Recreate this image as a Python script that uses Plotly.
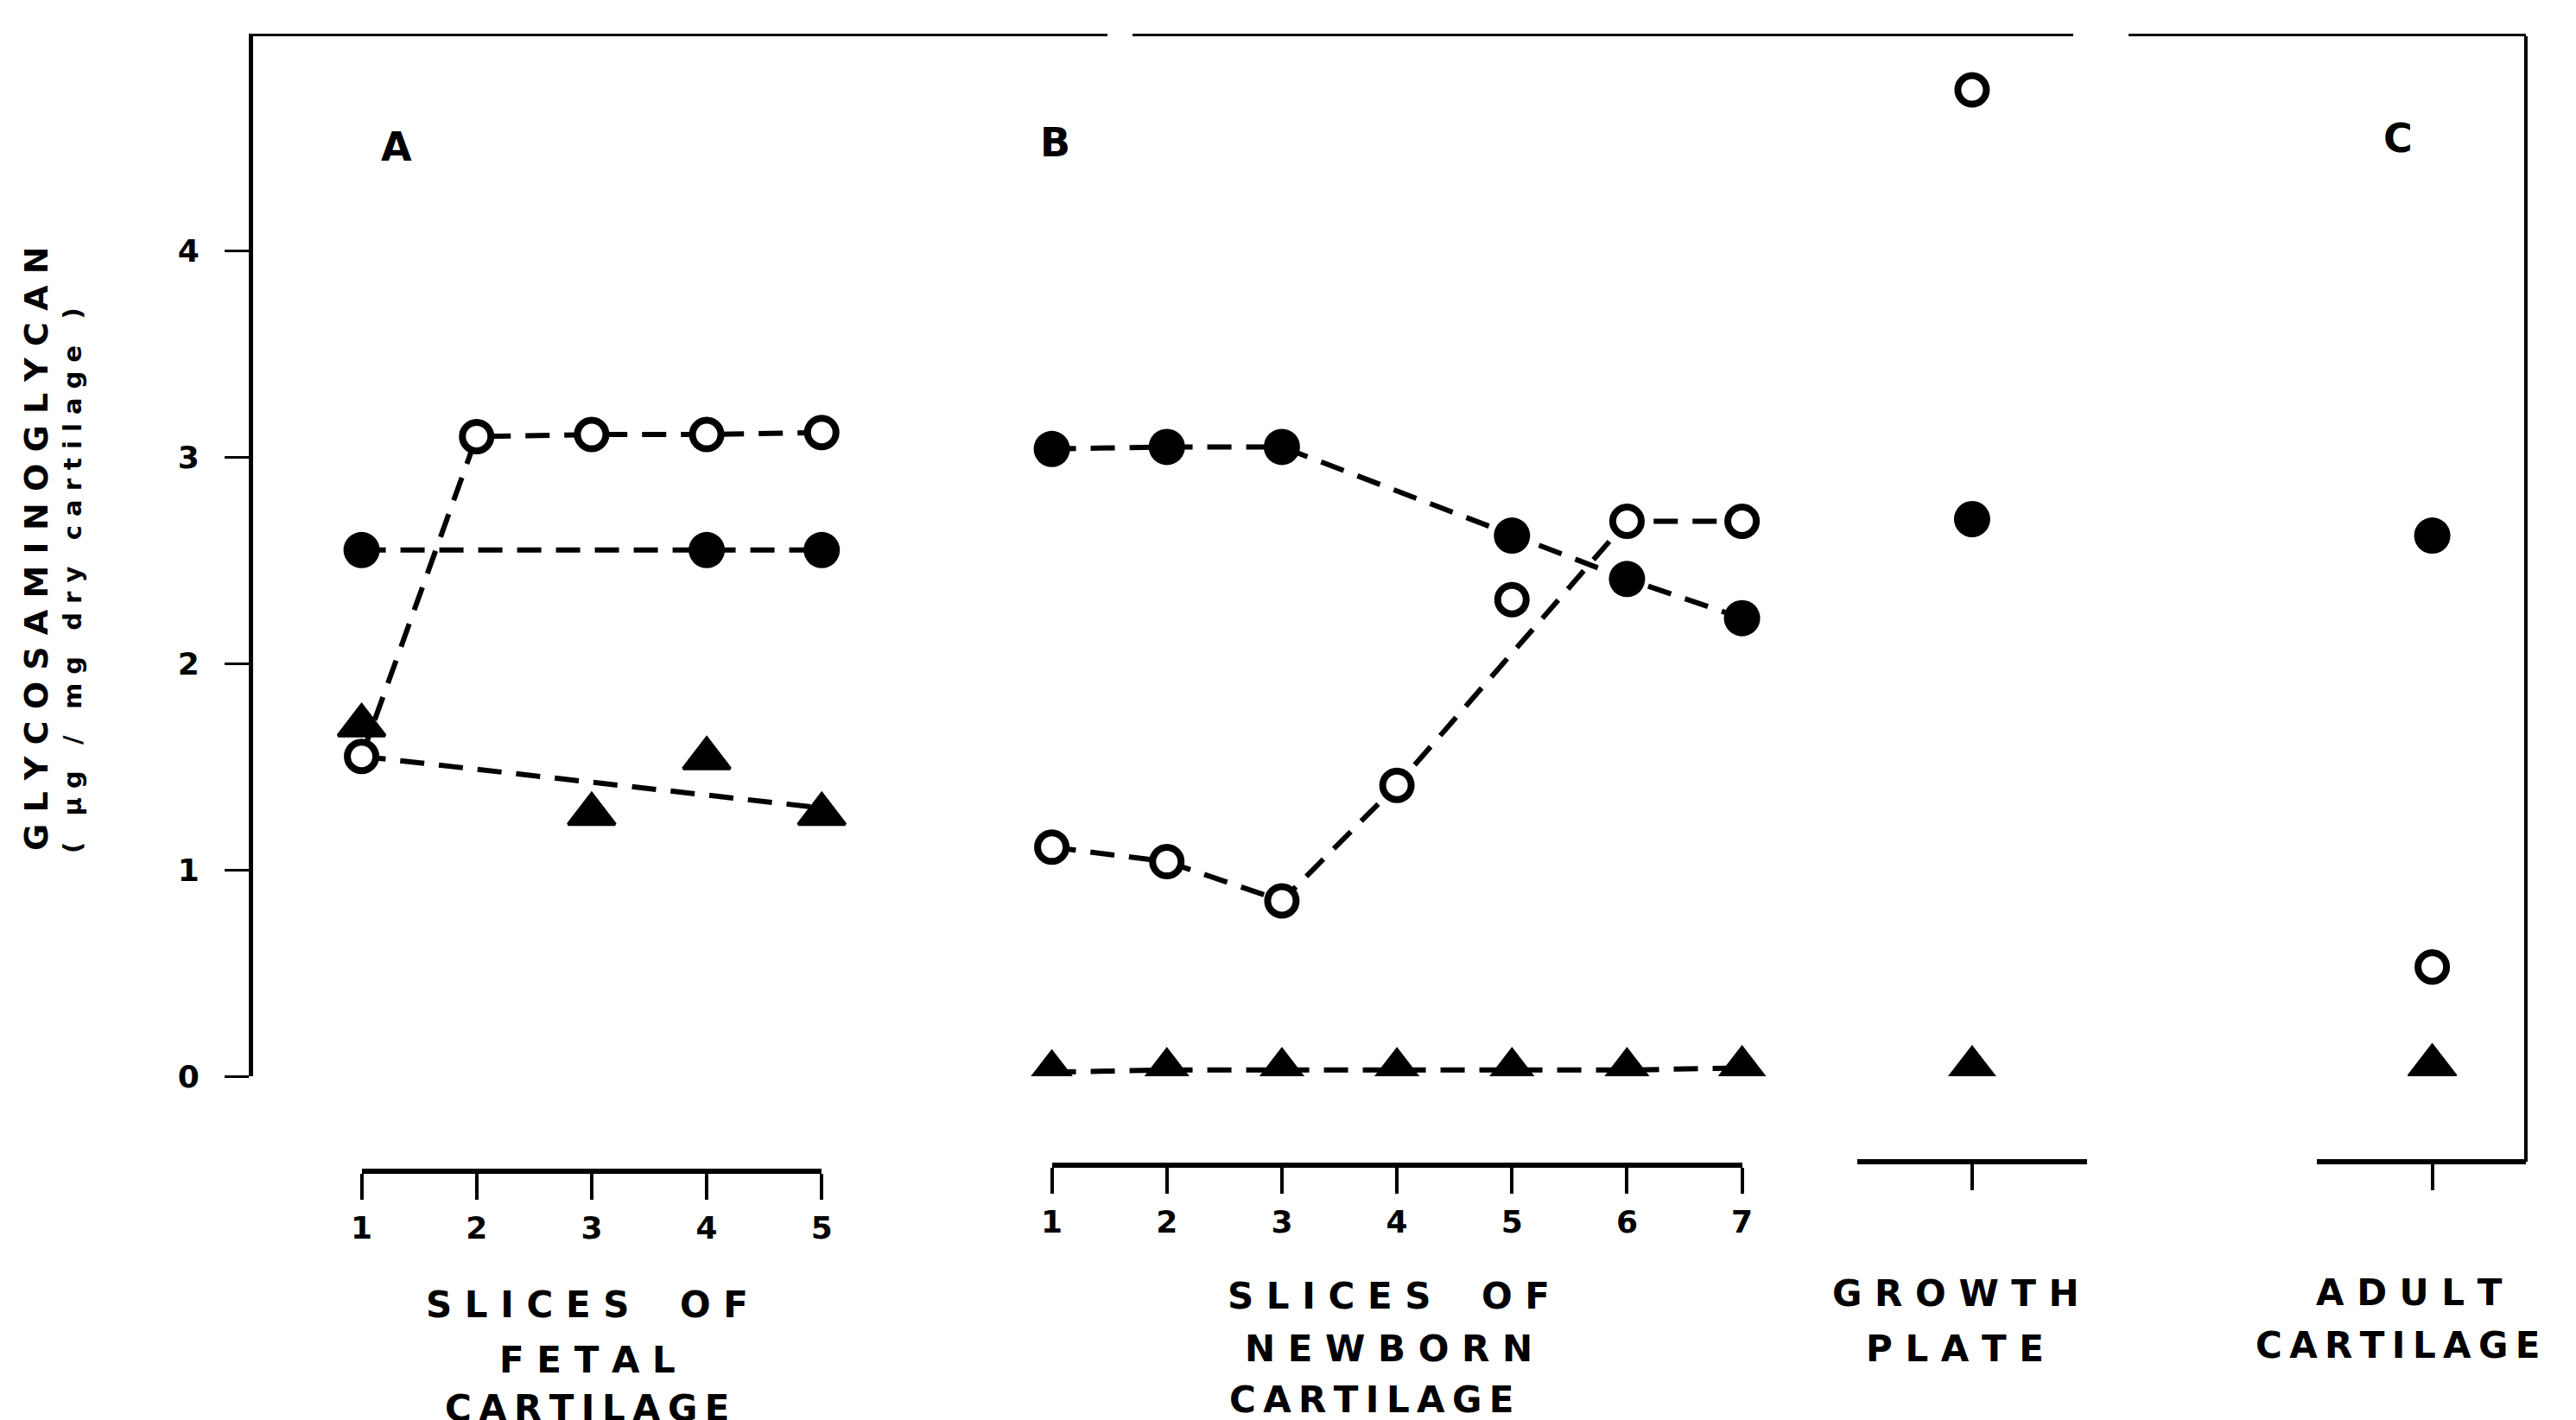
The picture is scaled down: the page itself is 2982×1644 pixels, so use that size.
import plotly.graph_objects as go

# ---------------- data ----------------
a_slices = [1, 2, 3, 4, 5]
a_open = [1.55, 3.10, 3.11, 3.11, 3.12]
a_filled_slices = [1, 4, 5]
a_filled = [2.55, 2.55, 2.55]
a_tri_slices = [1, 3, 4, 5]
a_tri = [1.70, 1.27, 1.54, 1.27]
a_trend_slices = [1, 5]
a_trend = [1.55, 1.30]

b_slices = [1, 2, 3, 4, 5, 6, 7]
b_open = [1.11, 1.04, 0.85, 1.41, 2.31, 2.69, 2.69]
b_open_line_slices = [1, 2, 3, 4, 6, 7]
b_filled_slices = [1, 2, 3, 5, 6, 7]
b_filled = [3.04, 3.05, 3.05, 2.62, 2.41, 2.22]
b_tri = [0.02, 0.03, 0.03, 0.03, 0.03, 0.03, 0.04]

growth_open, growth_filled, growth_tri = 4.78, 2.70, 0.04
adult_open, adult_filled, adult_tri = 0.53, 2.62, 0.05

y_ticks = [0, 1, 2, 3, 4]
a_tick_labels = ["1", "2", "3", "4", "5"]
b_tick_labels = ["1", "2", "3", "4", "5", "6", "7"]

# ---------------- layout helpers ----------------
A_OFF, B_OFF, GROWTH_X, ADULT_X = 0, 6, 15, 19
X_RANGE = [0.057, 19.814]
Y_RANGE = [0, 5.04]
W, H = 2982, 1644
L, R, T, B = 285, 2916, 34, 1354


def py(ypx):
    return (B - ypx) / (B - T)


def pxx(xpx):
    return (xpx - L) / (R - L)


def fx(v):
    return (v - X_RANGE[0]) / (X_RANGE[1] - X_RANGE[0])


FONT = "DejaVu Sans, Liberation Sans, Arial"
DASH = "28px,17px"
LW = 6
BLACK = "black"
NB = "\u00a0"
TH = "\u2009"

open_marker = dict(symbol="circle", size=33, color="white", line=dict(color=BLACK, width=8))
filled_marker = dict(symbol="circle", size=42, color=BLACK, line=dict(color=BLACK, width=0))
tri_marker = dict(symbol="triangle-up", size=47, color=BLACK, line=dict(color=BLACK, width=4))

fig = go.Figure()


def line(xs, ys):
    fig.add_trace(go.Scatter(x=xs, y=ys, mode="lines", showlegend=False, hoverinfo="skip",
                             line=dict(color=BLACK, width=LW, dash=DASH)))


def pts(xs, ys, marker):
    fig.add_trace(go.Scatter(x=xs, y=ys, mode="markers", showlegend=False, marker=marker))


# dummy traces so the free axes are drawn
for xa in ["x2", "x3", "x4", "x5"]:
    fig.add_trace(go.Scatter(x=[], y=[], xaxis=xa, yaxis="y", showlegend=False))
fig.add_trace(go.Scatter(x=[], y=[], xaxis="x", yaxis="y2", showlegend=False))

# panel A
line([s + A_OFF for s in a_slices], a_open)
line([s + A_OFF for s in a_filled_slices], a_filled)
line([s + A_OFF for s in a_trend_slices], a_trend)
# panel B
b_open_line = [v for s, v in zip(b_slices, b_open) if s in b_open_line_slices]
line([s + B_OFF for s in b_open_line_slices], b_open_line)
line([s + B_OFF for s in b_filled_slices], b_filled)
line([s + B_OFF for s in b_slices], b_tri)

pts([s + A_OFF for s in a_slices], a_open, open_marker)
pts([s + A_OFF for s in a_filled_slices], a_filled, filled_marker)
pts([s + A_OFF for s in a_tri_slices], a_tri, tri_marker)
pts([s + B_OFF for s in b_slices], b_open, open_marker)
pts([s + B_OFF for s in b_filled_slices], b_filled, filled_marker)
pts([s + B_OFF for s in b_slices], b_tri, tri_marker)
pts([GROWTH_X, ADULT_X], [growth_open, adult_open], open_marker)
pts([GROWTH_X, ADULT_X], [growth_filled, adult_filled], filled_marker)
pts([GROWTH_X, ADULT_X], [growth_tri, adult_tri], tri_marker)

tickfont = dict(family=FONT, size=36, color=BLACK, weight="bold")


def bottom_axis(rng, pos, tickvals, ticktext):
    return dict(anchor="free", position=pos, domain=[fx(rng[0]), fx(rng[1])], range=rng,
                showline=True, linecolor=BLACK, linewidth=6, showgrid=False, zeroline=False,
                ticks="outside", ticklen=30, tickwidth=4, tickcolor=BLACK,
                tickvals=tickvals, ticktext=ticktext, showticklabels=True,
                tickfont=tickfont, ticklabelstandoff=2)


fig.update_layout(
    width=W, height=H,
    margin=dict(l=L, r=W - R, t=T, b=H - B),
    plot_bgcolor="rgba(0,0,0,0)", paper_bgcolor="white",
    xaxis=dict(range=X_RANGE, domain=[0, 1], side="top", showline=True, linecolor=BLACK,
               linewidth=3, showgrid=False, zeroline=False, ticks="", showticklabels=False),
    yaxis=dict(range=Y_RANGE, domain=[py(1238), 1], showline=True, linecolor=BLACK,
               linewidth=5, showgrid=False, zeroline=False, ticks="outside", ticklen=28,
               tickwidth=3, tickcolor=BLACK, tickvals=y_ticks,
               ticktext=[str(v) for v in y_ticks], tickfont=tickfont, ticklabelstandoff=22),
    yaxis2=dict(anchor="free", position=1, side="right", domain=[py(1337), 1], range=[0, 1],
                showline=True, linecolor=BLACK, linewidth=4, showgrid=False, zeroline=False,
                ticks="", showticklabels=False),
    xaxis2=bottom_axis([1 + A_OFF, 5 + A_OFF], py(1348), [s + A_OFF for s in a_slices], a_tick_labels),
    xaxis3=bottom_axis([1 + B_OFF, 7 + B_OFF], py(1341), [s + B_OFF for s in b_slices], b_tick_labels),
    xaxis4=bottom_axis([GROWTH_X - 1, GROWTH_X + 1], py(1337), [GROWTH_X], [""]),
    xaxis5=bottom_axis([ADULT_X - 1, X_RANGE[1]], py(1337), [ADULT_X], [""]),
)

# small breaks in the top frame line, as in the scanned original
fig.update_layout(shapes=[
    dict(type="rect", xref="paper", yref="paper", x0=pxx(1274), x1=pxx(1303), y0=py(42), y1=py(26),
         fillcolor="white", line=dict(width=0), layer="above"),
    dict(type="rect", xref="paper", yref="paper", x0=pxx(2392), x1=pxx(2456), y0=py(42), y1=py(26),
         fillcolor="white", line=dict(width=0), layer="above"),
])


def spaced(s, gap=NB, wordgap=NB * 4):
    return wordgap.join(gap.join(list(w)) for w in s.split(" "))


ann = []
lab_font = dict(family=FONT, size=42, color=BLACK, weight="bold")


def lab(text, xv, ypx, gap=NB):
    ann.append(dict(text=spaced(text, gap, NB * 4), x=xv, xref="x", y=py(ypx), yref="paper",
                    showarrow=False, xanchor="center", yanchor="middle", font=lab_font))


lab("SLICES OF", 2.96, 1502)
lab("FETAL", 2.96, 1566)
lab("CARTILAGE", 2.96, 1622, TH)
lab("SLICES OF", 9.93, 1492)
lab("NEWBORN", 9.93, 1553)
lab("CARTILAGE", 9.78, 1612, TH)
lab("GROWTH", 14.86, 1489)
lab("PLATE", 14.85, 1553)
lab("ADULT", 18.8, 1488)
lab("CARTILAGE", 18.7, 1549, TH)

panel_font = dict(family=FONT, size=46, color=BLACK, weight="bold")
for t, xv, ypx in [("A", 1 + (237 - 216) / 70, 162), ("B", 1 + (638 - 216) / 70, 157),
                   ("C", 1 + (1455 - 216) / 70, 152)]:
    ann.append(dict(text=t, x=xv, xref="x", y=py(ypx), yref="paper", showarrow=False,
                    xanchor="center", yanchor="middle", font=panel_font))

ann.append(dict(text=spaced("GLYCOSAMINOGLYCAN", NB), x=pxx(34), xref="paper", y=py(627), yref="paper",
                textangle=-90, showarrow=False, xanchor="center", yanchor="middle",
                font=dict(family=FONT, size=38, color=BLACK, weight="bold")))
ann.append(dict(text=spaced("( µg / mg dry cartilage )", NB, NB * 3),
                x=pxx(76), xref="paper", y=py(664), yref="paper",
                textangle=-90, showarrow=False, xanchor="center", yanchor="middle",
                font=dict(family=FONT, size=29, color=BLACK, weight="bold")))

fig.update_layout(annotations=ann)
fig.write_html("out.html")
